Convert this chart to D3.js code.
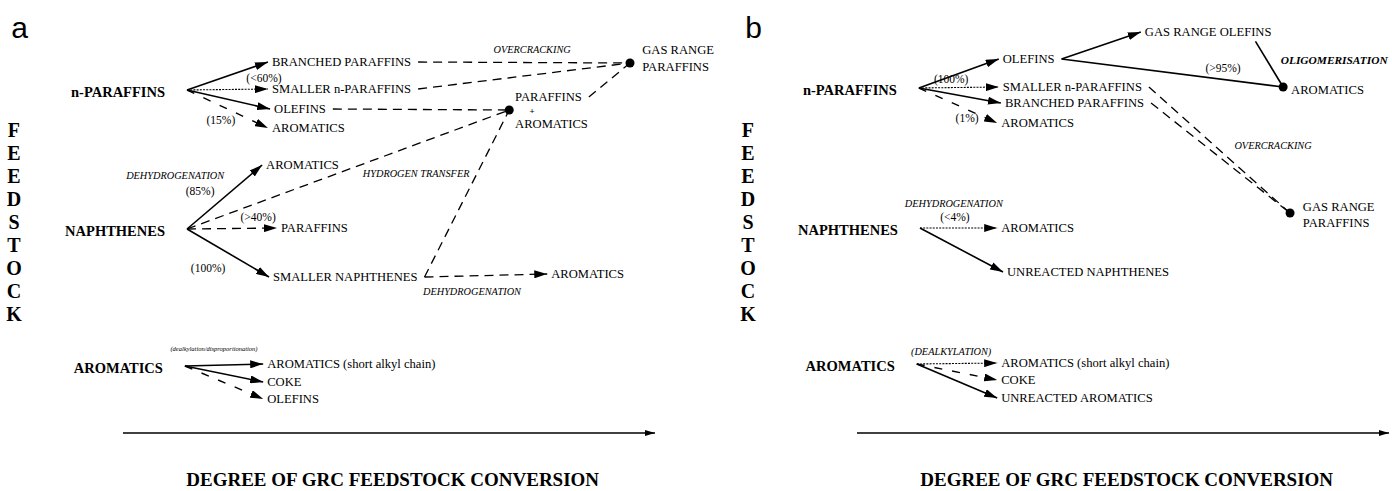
<!DOCTYPE html>
<html>
<head>
<meta charset="utf-8">
<script src="https://cdn.jsdelivr.net/npm/d3@7"></script>
<style>
  body { margin: 0; background: #fff; }
</style>
</head>
<body>
<div id="chart"></div>
<script>
// x = position along the conversion axis (0-100), y = row units (0 top, 100 = axis)
const panelLetters = ["a", "b"];
const feedLetters = ["F", "E", "E", "D", "S", "T", "O", "C", "K"];
const axisTitle = "DEGREE OF GRC FEEDSTOCK CONVERSION";

// ---- panel a ----
const feedA = [
    { id: "np", label: "n-PARAFFINS", x: 7.9, y: 14.25 },
    { id: "na", label: "NAPHTHENES", x: 7.9, y: 49 },
    { id: "ar", label: "AROMATICS", x: 7.5, y: 83.25 }
];
const productsA = [
    { id: "br", label: "BRANCHED PARAFFINS", x: 28.0, y: 7.25 },
    { id: "sn", label: "SMALLER n-PARAFFINS", x: 28.0, y: 14 },
    { id: "ol", label: "OLEFINS", x: 28.4, y: 19 },
    { id: "ar1", label: "AROMATICS", x: 28.0, y: 23.75 },
    { id: "ar2", label: "AROMATICS", x: 26.9, y: 33 },
    { id: "pa", label: "PARAFFINS", x: 29.7, y: 48.75 },
    { id: "snp", label: "SMALLER NAPHTHENES", x: 28.2, y: 61 },
    { id: "ar3", label: "AROMATICS", x: 80.5, y: 60.25 },
    { id: "arc", label: "AROMATICS (short alkyl chain)", x: 27.1, y: 82.75 },
    { id: "coke", label: "COKE", x: 27.1, y: 87.25 },
    { id: "ola", label: "OLEFINS", x: 27.1, y: 91.5 },
    { id: "grp1", label: "GAS RANGE", x: 97.6, y: 4.25 },
    { id: "grp2", label: "PARAFFINS", x: 97.6, y: 8.5 },
    { id: "pta1", label: "PARAFFINS", x: 73.7, y: 16 },
    { id: "pta2", label: "AROMATICS", x: 73.7, y: 22.75 }
];
const dotsA = [
    { id: "grp", x: 95.3, y: 7.5 },
    { id: "pta", x: 72.6, y: 19.25 }
];
const edgesA = [
    ["np", "br", "major"], ["np", "sn", "trace"], ["np", "ol", "major"], ["np", "ar1", "sparse"],
    ["na", "ar2", "major"], ["na", "pa", "dashed"], ["na", "snp", "major"], ["na", "pta", "dashed"],
    ["ar", "arc", "major"], ["ar", "coke", "major"], ["ar", "ola", "sparse"],
    ["br", "grp", "dashed"], ["sn", "grp", "dashed"], ["ol", "pta", "dashed"],
    ["snp", "pta", "dashed"], ["snp", "ar3", "dashed"], ["pta1", "grp", "dashed"]
];
const notesA = [
    { text: "OVERCRACKING", x: 76.9, y: 4, kind: "process" },
    { text: "(<60%)", x: 26.5, y: 11.25, kind: "share" },
    { text: "(15%)", x: 18.4, y: 21.75, kind: "share" },
    { text: "+", x: 76.9, y: 19.5, kind: "plus" },
    { text: "DEHYDROGENATION", x: 9.8, y: 35.5, kind: "process" },
    { text: "(85%)", x: 14.5, y: 39.5, kind: "share" },
    { text: "HYDROGEN TRANSFER", x: 55.1, y: 35, kind: "process" },
    { text: "(>40%)", x: 25.4, y: 46, kind: "share" },
    { text: "(100%)", x: 16, y: 58.75, kind: "share" },
    { text: "DEHYDROGENATION", x: 65.6, y: 64.5, kind: "process" },
    { text: "(dealkylation/disproportionation)", x: 17.1, y: 79, kind: "tiny" }
];

// ---- panel b ----
const feedB = [
    { id: "np", label: "n-PARAFFINS", x: 7.5, y: 13.75 },
    { id: "na", label: "NAPHTHENES", x: 7.7, y: 48.75 },
    { id: "ar", label: "AROMATICS", x: 7.1, y: 82.75 }
];
const productsB = [
    { id: "ol", label: "OLEFINS", x: 27.4, y: 6.5 },
    { id: "sn", label: "SMALLER n-PARAFFINS", x: 27.4, y: 13.5 },
    { id: "br", label: "BRANCHED PARAFFINS", x: 27.8, y: 17.5 },
    { id: "ar1", label: "AROMATICS", x: 27.1, y: 22.5 },
    { id: "gro", label: "GAS RANGE OLEFINS", x: 54.1, y: -0.25 },
    { id: "ard", label: "AROMATICS", x: 81.6, y: 14.25 },
    { id: "grp1", label: "GAS RANGE", x: 83.8, y: 43.5 },
    { id: "grp2", label: "PARAFFINS", x: 83.8, y: 47.5 },
    { id: "ar2", label: "AROMATICS", x: 27.1, y: 48.75 },
    { id: "unn", label: "UNREACTED NAPHTHENES", x: 28.2, y: 59.75 },
    { id: "arc", label: "AROMATICS (short alkyl chain)", x: 27.1, y: 82.5 },
    { id: "coke", label: "COKE", x: 27.1, y: 86.75 },
    { id: "una", label: "UNREACTED AROMATICS", x: 27.1, y: 91.25 }
];
const dotsB = [
    { id: "aro", x: 80.1, y: 13.5 },
    { id: "grp", x: 81.4, y: 45 }
];
const edgesB = [
    ["np", "ol", "major"], ["np", "sn", "trace"], ["np", "br", "major"], ["np", "ar1", "sparse"],
    ["ol", "gro", "major"], ["ol", "aro", "major"], ["gro", "aro", "major", "under"],
    ["sn", "grp", "dashed"], ["br", "grp", "dashed"],
    ["na", "ar2", "trace"], ["na", "unn", "major"],
    ["ar", "arc", "trace"], ["ar", "coke", "sparse"], ["ar", "una", "major"]
];
const notesB = [
    { text: "(100%)", x: 17.7, y: 11.5, kind: "share" },
    { text: "(1%)", x: 20.7, y: 21.25, kind: "share" },
    { text: "(>95%)", x: 68.8, y: 8.75, kind: "share" },
    { text: "OLIGOMERISATION", x: 89.7, y: 6.75, kind: "processBold" },
    { text: "OVERCRACKING", x: 78.2, y: 28, kind: "process" },
    { text: "DEHYDROGENATION", x: 18.2, y: 42.5, kind: "process" },
    { text: "(<4%)", x: 18.4, y: 46, kind: "share" },
    { text: "(DEALKYLATION)", x: 17.7, y: 79.5, kind: "process" }
];

const panels = [
    { letter: panelLetters[0], range: [123, 655], feeds: feedA, products: productsA, dots: dotsA, edges: edgesA, notes: notesA },
    { letter: panelLetters[1], range: [857, 1389], feeds: feedB, products: productsB, dots: dotsB, edges: edgesB, notes: notesB }
];

const serif = "'Liberation Serif', 'Times New Roman', serif";
const sans = "'Liberation Sans', Arial, sans-serif";

const svg = d3.select("#chart").append("svg")
    .attr("width", 1392)
    .attr("height", 491)
    .style("background", "#fff");

// arrowheads
const defs = svg.append("defs");
defs.append("marker")
    .attr("id", "head")
    .attr("viewBox", "0 0 13 8")
    .attr("refX", 13).attr("refY", 4)
    .attr("markerWidth", 13).attr("markerHeight", 8)
    .attr("markerUnits", "userSpaceOnUse")
    .attr("orient", "auto")
    .append("path").attr("d", "M0,0L13,4L0,8Z").attr("fill", "#000");
defs.append("marker")
    .attr("id", "axhead")
    .attr("viewBox", "0 0 10 6")
    .attr("refX", 10).attr("refY", 3)
    .attr("markerWidth", 10).attr("markerHeight", 6)
    .attr("markerUnits", "userSpaceOnUse")
    .attr("orient", "auto")
    .append("path").attr("d", "M0,0L10,3L0,6Z").attr("fill", "#000");

const y = d3.scaleLinear().domain([0, 100]).range([33, 433]);

const edgeStyle = {
    major: { dash: null, width: 1.6 },
    trace: { dash: "2,1.2", width: 1.1 },
    dashed: { dash: "9,6", width: 1.3 },
    sparse: { dash: "8,10", width: 1.4 }
};

const noteStyle = {
    share: { size: 11.5, style: "normal", weight: "normal" },
    process: { size: 10.3, style: "italic", weight: "normal" },
    processBold: { size: 11.4, style: "italic", weight: "bold" },
    tiny: { size: 6.5, style: "italic", weight: "normal" },
    plus: { size: 9, style: "normal", weight: "bold" }
};

panels.forEach(p => drawPanel(p));

function drawPanel(p) {
    const x = d3.scaleLinear().domain([0, 100]).range(p.range);
    const g = svg.append("g");
    const gEdges = g.append("g");
    const gText = g.append("g");
    const gDots = g.append("g");
    const index = new Map();

    // panel letter and vertical FEEDSTOCK label
    g.append("text")
        .attr("x", x(-21)).attr("y", y(1.25))
        .style("font-family", sans).style("font-size", "30px")
        .text(p.letter);

    const letterY = d3.scalePoint().domain(d3.range(feedLetters.length)).range([y(24.25), y(70.25)]);
    g.selectAll(".fl")
        .data(feedLetters)
        .join("text")
        .attr("class", "fl")
        .attr("x", x(-20.5))
        .attr("y", (d, i) => letterY(i))
        .attr("dy", "0.35em")
        .attr("text-anchor", "middle")
        .style("font-family", serif).style("font-weight", "bold").style("font-size", "20px")
        .text(d => d);

    // feedstocks
    gText.selectAll(".feed")
        .data(p.feeds)
        .join("text")
        .attr("class", "feed")
        .attr("x", d => x(d.x))
        .attr("y", d => y(d.y) + 2)
        .attr("dy", "0.35em")
        .attr("text-anchor", "end")
        .style("font-family", serif).style("font-weight", "bold").style("font-size", "14.5px")
        .text(d => d.label)
        .each(function (d) { index.set(d.id, { type: "feed", d: d, box: this.getBBox() }); });

    // products
    gText.selectAll(".prod")
        .data(p.products)
        .join("text")
        .attr("class", "prod")
        .attr("x", d => x(d.x))
        .attr("y", d => y(d.y))
        .attr("dy", "0.35em")
        .style("font-family", serif)
        .style("font-size", "12.6px")
        .text(d => d.label)
        .each(function (d) { index.set(d.id, { type: "prod", d: d, box: this.getBBox() }); });

    // annotations
    gText.selectAll(".note")
        .data(p.notes)
        .join("text")
        .attr("class", "note")
        .attr("x", d => x(d.x))
        .attr("y", d => y(d.y))
        .attr("dy", "0.35em")
        .attr("text-anchor", "middle")
        .style("font-family", serif)
        .style("font-size", d => noteStyle[d.kind].size + "px")
        .style("font-style", d => noteStyle[d.kind].style)
        .style("font-weight", d => noteStyle[d.kind].weight)
        .text(d => d.text);

    p.dots.forEach(d => index.set(d.id, { type: "dot", d: d }));

    function start(id, exit) {
        const n = index.get(id);
        if (n.type === "dot") return [x(n.d.x), y(n.d.y)];
        const b = n.box;
        if (n.type === "feed") return [b.x + b.width + 22, y(n.d.y)];
        if (exit === "under") return [b.x + b.width - 16, b.y + b.height + 2];
        return [b.x + b.width + 7, y(n.d.y)];
    }
    function end(id) {
        const n = index.get(id);
        if (n.type === "dot") return [x(n.d.x), y(n.d.y)];
        return [n.box.x - 4, y(n.d.y)];
    }

    const line = d3.line();
    gEdges.selectAll("path")
        .data(p.edges)
        .join("path")
        .attr("d", e => line([start(e[0], e[3]), end(e[1])]))
        .attr("fill", "none")
        .attr("stroke", "#000")
        .attr("stroke-width", e => edgeStyle[e[2]].width)
        .attr("stroke-dasharray", e => edgeStyle[e[2]].dash)
        .attr("marker-end", e => index.get(e[1]).type === "dot" ? null : "url(#head)");

    gDots.selectAll("circle")
        .data(p.dots)
        .join("circle")
        .attr("cx", d => x(d.x))
        .attr("cy", d => y(d.y))
        .attr("r", 4.5)
        .attr("fill", "#000");

    // conversion axis
    g.append("path")
        .attr("d", line([[x(0), y(100)], [x(100), y(100)]]))
        .attr("stroke", "#000")
        .attr("stroke-width", 1.6)
        .attr("marker-end", "url(#axhead)");

    g.append("text")
        .attr("x", x(11.9))
        .attr("y", y(113.25))
        .style("font-family", serif).style("font-weight", "bold").style("font-size", "19px")
        .text(axisTitle);
}
</script>
</body>
</html>
